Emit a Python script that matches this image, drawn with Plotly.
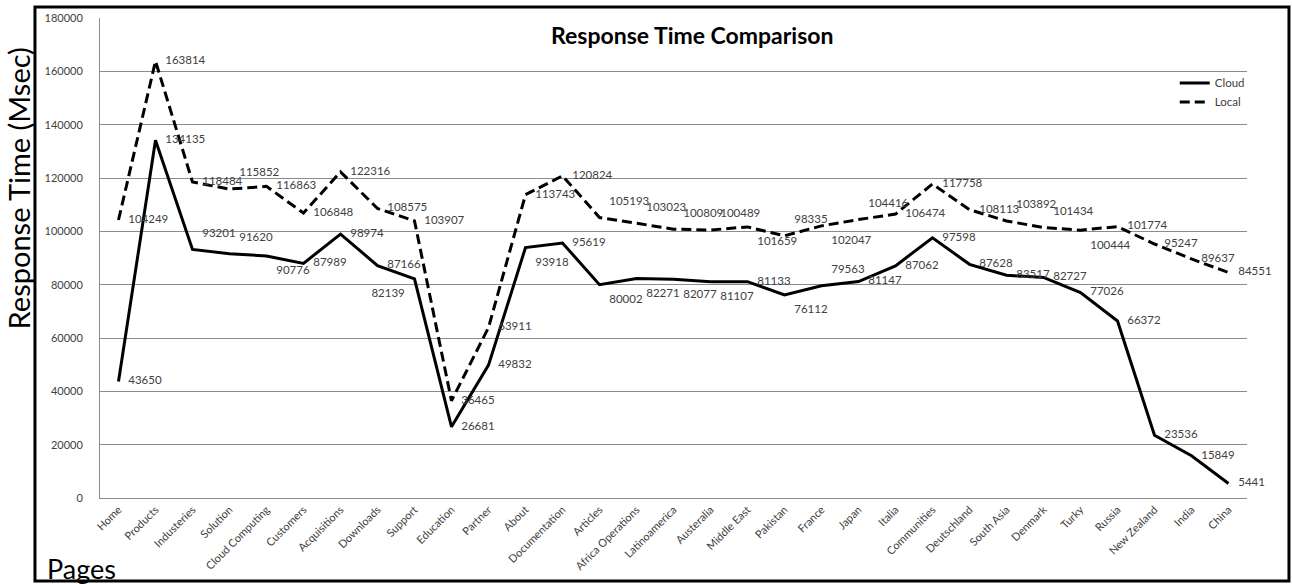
import plotly.graph_objects as go

# Pages tested and measured response times (ms)
pages = [
    "Home", "Products", "Industeries", "Solution", "Cloud Computing", "Customers",
    "Acquisitions", "Downloads", "Support", "Education", "Partner", "About",
    "Documentation", "Articles", "Africa Operations", "Latinoamerica", "Austeralia",
    "Middle East", "Pakistan", "France", "Japan", "Italia", "Communities",
    "Deutschland", "South Asia", "Denmark", "Turky", "Russia", "New Zealand",
    "India", "China",
]

cloud = [
    43650, 134135, 93201, 91620, 90776, 87989, 98974, 87166, 82139, 26681,
    49832, 93918, 95619, 80002, 82271, 82077, 81107, 81133, 76112, 79563,
    81147, 87062, 97598, 87628, 83517, 82727, 77026, 66372, 23536, 15849, 5441,
]

local = [
    104249, 163814, 118484, 115852, 116863, 106848, 122316, 108575, 103907, 36465,
    63911, 113743, 120824, 105193, 103023, 100809, 100489, 101659, 98335, 102047,
    104416, 106474, 117758, 108113, 103892, 101434, 100444, 101774, 95247, 89637, 84551,
]

y_ticks = [0, 20000, 40000, 60000, 80000, 100000, 120000, 140000, 160000, 180000]

# label placement for the value labels of each line
MR, TR, BR, BL = "middle right", "top right", "bottom right", "bottom left"
cloud_pos = [MR, MR, TR, TR, BR, MR, MR, MR, BL, MR, MR, BR, MR, BR, BR, BR,
             BR, MR, BR, TR, MR, MR, MR, MR, MR, MR, MR, MR, MR, MR, MR]
local_pos = [MR, MR, MR, TR, MR, MR, MR, MR, MR, MR, MR, MR, MR, TR, TR, TR,
             TR, BR, TR, BR, TR, MR, MR, MR, TR, TR, BR, MR, MR, MR, MR]

FONT = "Lato"
TXT = "#404040"

fig = go.Figure()

fig.add_trace(go.Scatter(
    x=pages, y=cloud, name="Cloud", mode="lines",
    line=dict(color="black", width=3),
))
fig.add_trace(go.Scatter(
    x=pages, y=local, name="Local", mode="lines",
    line=dict(color="black", width=3, dash="10px,5px"),
))

# value labels
for vals, pos in ((cloud, cloud_pos), (local, local_pos)):
    fig.add_trace(go.Scatter(
        x=pages, y=vals, mode="markers+text", showlegend=False, hoverinfo="skip",
        marker=dict(size=14, opacity=0), cliponaxis=False,
        text=[str(v) for v in vals], textposition=pos,
        textfont=dict(family=FONT, size=11.5, color=TXT),
    ))

fig.update_layout(
    width=1292, height=584,
    margin=dict(l=100, r=45, t=18, b=86),
    paper_bgcolor="white", plot_bgcolor="white",
    font=dict(family=FONT, color=TXT),
    showlegend=True,
    legend=dict(
        x=0.937, y=0.895, xanchor="left", yanchor="top",
        bgcolor="rgba(0,0,0,0)", font=dict(family=FONT, size=11.5, color=TXT),
        tracegroupgap=0,
    ),
    xaxis=dict(
        type="category", range=[-0.5, len(pages) - 0.5],
        tickangle=-45, tickfont=dict(family=FONT, size=11, color=TXT),
        showgrid=False, showline=True, linecolor="#8c8c8c", linewidth=1,
        ticks="", zeroline=False,
    ),
    yaxis=dict(
        range=[0, 180000], tickvals=y_ticks, ticktext=[str(v) for v in y_ticks],
        tickfont=dict(family=FONT, size=11, color=TXT),
        showgrid=True, gridcolor="#8c8c8c", gridwidth=1,
        showline=True, linecolor="#8c8c8c", linewidth=1,
        ticks="", ticklabelstandoff=14, zeroline=False,
    ),
    annotations=[
        dict(text="<b>Response Time Comparison</b>", xref="paper", yref="paper",
             x=0.517, y=0.965, xanchor="center", yanchor="middle", showarrow=False,
             font=dict(family=FONT, size=23, color="black")),
        dict(text="Response Time (Msec)", xref="paper", yref="paper",
             x=-0.0715, y=0.645, xanchor="center", yanchor="middle", showarrow=False,
             textangle=-90, font=dict(family=FONT, size=29, color="black")),
        dict(text="Pages", xref="paper", yref="paper",
             x=-0.048, y=-0.146, xanchor="left", yanchor="middle", showarrow=False,
             font=dict(family=FONT, size=27, color="black")),
    ],
    shapes=[
        dict(type="rect", xref="paper", yref="paper",
             x0=-0.0567, x1=1.0366, y0=-0.1729, y1=1.0229,
             line=dict(color="black", width=3), layer="above"),
    ],
)

fig.write_html("out.html")
